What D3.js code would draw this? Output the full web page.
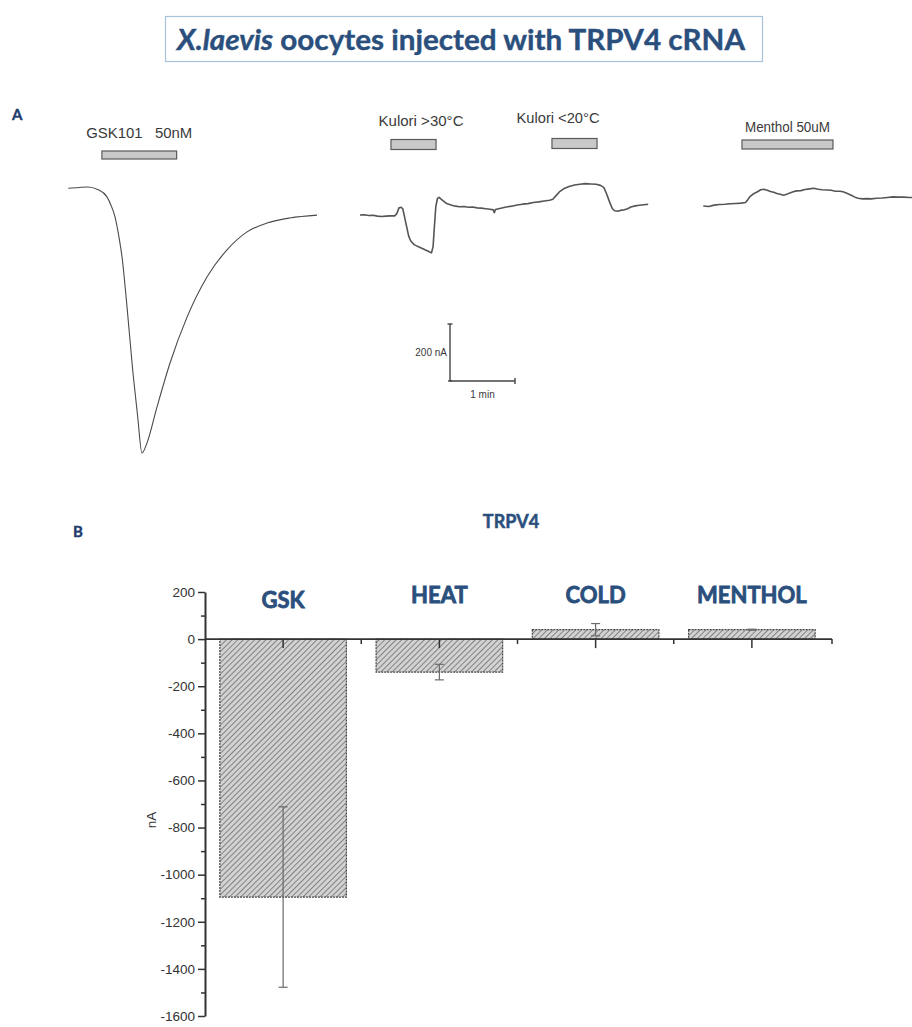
<!DOCTYPE html>
<html>
<head>
<meta charset="utf-8">
<script src="https://cdn.jsdelivr.net/npm/d3@7"></script>
<style>
  body { margin: 0; background: #fff; }
  svg { display: block; }
  text { white-space: pre; }
</style>
</head>
<body>
<svg id="fig" width="912" height="1027"></svg>
<script>
// ---------- Panel B: peak current per stimulus (mean ± SEM, nA) ----------
const categories = ["GSK", "HEAT", "COLD", "MENTHOL"];
const meanCurrent = [-1095, -140, 40, 40];
const semCurrent = [383, 33, 26, 2];
const yMajorTicks = [200, 0, -200, -400, -600, -800, -1000, -1200, -1400, -1600];
const yMinorTicks = [100, -100, -300, -500, -700, -900, -1100, -1300, -1500];

// ---------- Panel A: current traces [time (s), current (nA) relative to start] ----------
const gskTrace = [
  [0, 0], [10, 3], [18, 4.6], [27, -4], [35.7, -30], [40, -65], [43.1, -100], [46.5, -165],
  [49.6, -241], [54.2, -416], [59.7, -648], [64, -800], [68, -929], [72.6, -894],
  [81.9, -767], [93.9, -613], [109.6, -452], [128, -311], [146.5, -216], [165, -153],
  [183.4, -122], [204.6, -104], [229.6, -94]
];
const tempTrace = [
  [0, 0], [4, 1], [8, -2], [12, -1], [16, -4], [20, -5], [24, -4], [28, -3], [32, -3], [34, 5],
  [36, 25], [38, 27], [39.5, 22], [41, -5], [43, -40], [45, -75], [47, -92], [50, -104],
  [53, -110], [56, -115], [60, -122], [63, -127], [66, -133], [67.5, -110], [68.5, -50],
  [70, 30], [71.5, 58], [73, 62], [76, 52], [80, 40], [84, 35], [88, 31], [92, 29], [96, 30],
  [100, 27], [104, 28], [108, 25], [112, 24], [116, 22], [120, 20], [123, 18], [124, 8],
  [125, 19], [130, 24], [135, 28], [140, 31], [145, 35], [150, 38], [155, 40], [160, 44],
  [165, 46], [170, 49], [175, 52], [178, 55], [181, 68], [184, 81], [188, 92], [193, 100],
  [198, 105], [203, 108], [208, 110], [213, 109], [218, 108], [222, 104], [225, 97], [227, 80],
  [229, 60], [231, 40], [233, 22], [235, 15], [238, 13], [241, 17], [244, 18], [247, 22],
  [250, 28], [254, 32], [258, 34], [262, 36], [266, 38]
];
const mentholTrace = [
  [0, 0], [5, -2], [10, 3], [15, 5], [20, 6], [25, 8], [30, 9], [35, 10], [39, 12], [41, 22],
  [43, 33], [46, 42], [50, 50], [53, 57], [56, 59], [59, 55], [62, 51], [65, 48], [68, 44],
  [71, 41], [74, 38], [77, 41], [80, 46], [83, 50], [86, 53], [90, 54], [94, 58], [98, 60],
  [102, 62], [106, 59], [110, 57], [114, 56], [118, 55], [122, 52], [126, 52], [129, 50],
  [133, 44], [137, 37], [140, 31], [143, 27], [147, 25], [151, 26], [155, 25], [160, 27],
  [165, 28], [170, 30], [175, 32], [180, 31], [185, 31], [190, 30], [193, 30]
];
// drug / temperature application periods [start s, end s]
const gskPeriod = [31, 100];
const heatPeriod = [28.6, 70.2];
const coldPeriod = [177.2, 218.8];
const mentholPeriod = [35.7, 119.7];
const periodLabels = ["GSK101   50nM", "Kulori >30°C", "Kulori <20°C", "Menthol 50uM"];
// calibration bar
const scaleTime = 60;     // s
const scaleCurrent = 200; // nA

const svg = d3.select("#fig");
svg.append("rect").attr("width", 912).attr("height", 1027).attr("fill", "#fff");

const blue = "#2b4f7d";

// ---------- Title box ----------
svg.append("rect")
  .attr("x", 165.5).attr("y", 16.5).attr("width", 597).attr("height", 45)
  .attr("fill", "#fff").attr("stroke", "#a9c3db").attr("stroke-width", 1.2);
const title = svg.append("text")
  .attr("x", 461).attr("y", 50)
  .attr("text-anchor", "middle")
  .attr("font-family", "Lato, 'Open Sans', sans-serif")
  .attr("font-weight", "bold").attr("font-size", 28.5)
  .attr("textLength", 568).attr("lengthAdjust", "spacingAndGlyphs")
  .attr("fill", blue).attr("stroke", blue).attr("stroke-width", 0.4);
title.append("tspan").attr("font-style", "italic").text("X.laevis");
title.append("tspan").text(" oocytes injected with TRPV4 cRNA");

// Panel letters
svg.append("text").attr("x", 12).attr("y", 120)
  .attr("font-family", "Lato, sans-serif").attr("font-weight", "bold")
  .attr("font-size", 15).attr("fill", "#1f3c6e").attr("stroke", "#1f3c6e").attr("stroke-width", 0.4)
  .text("A");
svg.append("text").attr("x", 73).attr("y", 537)
  .attr("font-family", "Lato, sans-serif").attr("font-weight", "bold")
  .attr("font-size", 15).attr("fill", "#1f3c6e").attr("stroke", "#1f3c6e").attr("stroke-width", 0.4)
  .text("B");

// ---------- Panel A ----------
const tScale = d3.scaleLinear().domain([0, 60]).range([0, 65]);      // 1 min = 65 px
const iScale = d3.scaleLinear().domain([0, 200]).range([0, -57]);    // 200 nA = 57 px

function drawTrace(data, ox, oy, curve, width, color) {
  const g = svg.append("g").attr("transform", `translate(${ox},${oy})`);
  g.append("path")
    .datum(data)
    .attr("fill", "none")
    .attr("stroke", color)
    .attr("stroke-width", width)
    .attr("stroke-linejoin", "round")
    .attr("d", d3.line().x(d => tScale(d[0])).y(d => iScale(d[1])).curve(curve));
  return g;
}
function drawPeriod(period, ox, yTop, h) {
  svg.append("rect")
    .attr("x", ox + tScale(period[0])).attr("y", yTop)
    .attr("width", tScale(period[1]) - tScale(period[0])).attr("height", h)
    .attr("fill", "#c9c9c9").attr("stroke", "#5a5a5a").attr("stroke-width", 1.2);
}
function drawLabel(txt, cx, y, size, len) {
  svg.append("text")
    .attr("x", cx).attr("y", y).attr("text-anchor", "middle")
    .attr("font-family", "'Liberation Sans', Arial, sans-serif")
    .attr("font-size", size).attr("fill", "#3a3a3a")
    .attr("textLength", len).attr("lengthAdjust", "spacingAndGlyphs")
    .text(txt);
}

// GSK101 response
const gskX = 68.3, gskY = 188.3;
drawTrace(gskTrace, gskX, gskY, d3.curveMonotoneX, 1.1, "#4a4a4a");
drawPeriod(gskPeriod, gskX, 151, 8);
drawLabel(periodLabels[0], gskX + tScale((gskPeriod[0] + gskPeriod[1]) / 2), 138, 14, 106);

// heat / cold response
const tmpX = 360, tmpY = 215;
drawTrace(tempTrace, tmpX, tmpY, d3.curveLinear, 1.6, "#555");
drawPeriod(heatPeriod, tmpX, 139.5, 10);
drawPeriod(coldPeriod, tmpX, 138.5, 10);
drawLabel(periodLabels[1], 421, 126, 15, 85);
drawLabel(periodLabels[2], 558, 123, 15, 83);

// menthol response
const menX = 703.3, menY = 206;
drawTrace(mentholTrace, menX, menY, d3.curveLinear, 1.6, "#555");
drawPeriod(mentholPeriod, menX, 140, 9);
drawLabel(periodLabels[3], menX + tScale((mentholPeriod[0] + mentholPeriod[1]) / 2), 132, 14, 85);

// calibration bar
const cbX = 450, cbY = 381;
const cb = svg.append("g").attr("transform", `translate(${cbX},${cbY})`)
  .attr("stroke", "#444").attr("stroke-width", 1.4);
cb.append("line").attr("x1", 0).attr("x2", 0).attr("y1", 0).attr("y2", iScale(scaleCurrent));
cb.append("line").attr("x1", 0).attr("x2", tScale(scaleTime)).attr("y1", 0).attr("y2", 0);
cb.append("line").attr("x1", -2.5).attr("x2", 2.5).attr("y1", iScale(scaleCurrent)).attr("y2", iScale(scaleCurrent));
cb.append("line").attr("x1", tScale(scaleTime)).attr("x2", tScale(scaleTime)).attr("y1", -3).attr("y2", 3);
cb.append("line").attr("x1", -2).attr("x2", 2).attr("y1", 0).attr("y2", 0);
svg.append("text").attr("x", cbX - 3).attr("y", cbY + iScale(scaleCurrent) / 2 + 3.5)
  .attr("text-anchor", "end").attr("font-family", "'Liberation Sans', Arial, sans-serif")
  .attr("font-size", 10).attr("fill", "#3a3a3a").text(`${scaleCurrent} nA`);
svg.append("text").attr("x", cbX + tScale(scaleTime) / 2).attr("y", cbY + 17)
  .attr("text-anchor", "middle").attr("font-family", "'Liberation Sans', Arial, sans-serif")
  .attr("font-size", 10).attr("fill", "#3a3a3a").text(`${scaleTime / 60} min`);

// ---------- Panel B ----------
svg.append("text").attr("x", 511).attr("y", 528).attr("text-anchor", "middle")
  .attr("font-family", "Lato, sans-serif").attr("font-weight", "bold")
  .attr("font-size", 18).attr("fill", blue).attr("stroke", blue).attr("stroke-width", 0.5)
  .text("TRPV4");

const y = d3.scaleLinear().domain([-1600, 200]).range([1016, 592]);
const x = d3.scaleBand().domain(categories).range([205, 830])
  .paddingInner(0.19).paddingOuter(0.095);

// hatch pattern for bars
const defs = svg.append("defs");
const pat = defs.append("pattern").attr("id", "hatch")
  .attr("patternUnits", "userSpaceOnUse").attr("width", 4).attr("height", 4)
  .attr("patternTransform", "rotate(45)");
pat.append("rect").attr("width", 4).attr("height", 4).attr("fill", "#d2d2d2");
pat.append("line").attr("x1", 0).attr("x2", 0).attr("y1", 0).attr("y2", 4)
  .attr("stroke", "#5f5f5f").attr("stroke-width", 1.4);

const rows = categories.map((c, i) => ({ c, m: meanCurrent[i], s: semCurrent[i] }));

svg.append("g").selectAll("rect").data(rows).join("rect")
  .attr("x", d => x(d.c))
  .attr("width", x.bandwidth())
  .attr("y", d => y(Math.max(0, d.m)))
  .attr("height", d => Math.abs(y(d.m) - y(0)))
  .attr("fill", "url(#hatch)")
  .attr("stroke", "#444").attr("stroke-width", 1.2)
  .attr("stroke-dasharray", "2,1");

// y axis
const yAxisG = svg.append("g").attr("transform", "translate(205,0)");
yAxisG.call(d3.axisLeft(y).tickValues(yMajorTicks).tickSize(7).tickSizeOuter(0).tickPadding(3)
  .tickFormat(d => String(d)));
yAxisG.append("g").call(d3.axisLeft(y).tickValues(yMinorTicks).tickSize(4).tickFormat(""))
  .select(".domain").remove();
yAxisG.selectAll(".domain").attr("stroke", "#333").attr("stroke-width", 2);
yAxisG.selectAll(".tick line").attr("stroke", "#333").attr("stroke-width", 1.5);
yAxisG.selectAll(".tick text")
  .attr("font-family", "'Liberation Sans', Arial, sans-serif")
  .attr("font-size", 13.5).attr("fill", "#333");

// x axis at zero
const xAxisG = svg.append("g").attr("transform", `translate(0,${y(0)})`);
xAxisG.call(d3.axisBottom(x).tickSize(9).tickSizeOuter(0).tickFormat(""));
xAxisG.select(".domain").attr("stroke", "#333").attr("stroke-width", 1.6)
  .attr("d", `M205,0H832`);
xAxisG.selectAll(".tick line").attr("stroke", "#333").attr("stroke-width", 1.5);
const bounds = categories.slice(1).map(c => x(c) - x.step() * x.paddingInner() / 2).concat([832]);
xAxisG.selectAll(".minor").data(bounds).join("line").attr("class", "minor")
  .attr("x1", d => d).attr("x2", d => d).attr("y1", 0).attr("y2", 5)
  .attr("stroke", "#333").attr("stroke-width", 1.5);

// error bars
const eb = svg.append("g").attr("stroke", "#6a6a6a").attr("stroke-width", 1.2);
rows.forEach(d => {
  const cx = x(d.c) + x.bandwidth() / 2;
  eb.append("line").attr("x1", cx).attr("x2", cx).attr("y1", y(d.m + d.s)).attr("y2", y(d.m - d.s));
  [d.m + d.s, d.m - d.s].forEach(v => {
    eb.append("line").attr("x1", cx - 4.5).attr("x2", cx + 4.5).attr("y1", y(v)).attr("y2", y(v));
  });
});

// category labels
svg.append("g").selectAll("text").data(categories).join("text")
  .attr("x", d => x(d) + x.bandwidth() / 2)
  .attr("y", (d, i) => i === 0 ? 608 : 603)
  .attr("text-anchor", "middle")
  .attr("font-family", "Lato, 'Open Sans', sans-serif")
  .attr("font-weight", "bold").attr("font-size", 22)
  .attr("fill", blue).attr("stroke", blue).attr("stroke-width", 0.8)
  .text(d => d);

// y label
svg.append("text")
  .attr("transform", "translate(156,820) rotate(-90)")
  .attr("text-anchor", "middle")
  .attr("font-family", "'Liberation Sans', Arial, sans-serif")
  .attr("font-size", 13.5).attr("fill", "#333").text("nA");
</script>
</body>
</html>
